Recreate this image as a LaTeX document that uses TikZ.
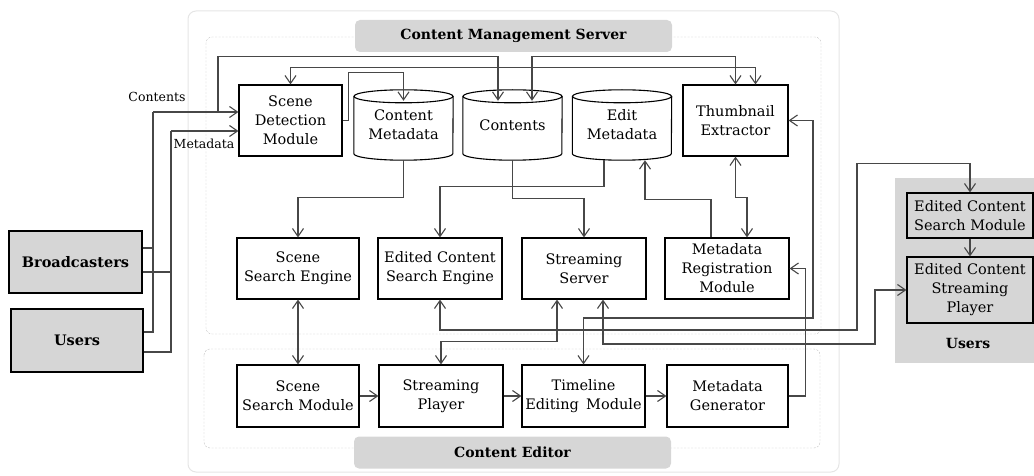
\documentclass[tikz,border=0pt]{standalone}
\usepackage{fontspec}
\setmainfont{DejaVu Serif}
\usetikzlibrary{arrows.meta}

\begin{document}
\begin{tikzpicture}[x=1pt,y=-1pt,
		>={Straight Barb[length=8pt,width=11pt]},
		box/.style={draw=black,line width=1.1pt,fill=white,align=center,inner sep=1pt,font=\fontsize{14.5}{19}\selectfont},
		gbox/.style={box,fill=gray!32},
		mod/.style={box,minimum width=124pt,minimum height=61pt},
		db/.style={align=center,inner sep=0pt,font=\fontsize{14.5}{19}\selectfont,minimum width=99pt,minimum height=70pt},
		title/.style={fill=gray!32,rounded corners=5pt,minimum width=317pt,minimum height=32pt,font=\fontsize{14}{16}\selectfont\bfseries},
		link/.style={draw=black!72,line width=1.1pt},
		arr/.style={link,->},
		arr2/.style={link,<->},
		lbl/.style={font=\fontsize{12.5}{14}\selectfont,inner sep=0pt}]
		\useasboundingbox (0,0) rectangle (1034,476);
		\draw [gray!20,line width=1pt,rounded corners=8pt] (188,11) rectangle (839,472);
		\draw [gray!50,dash pattern=on 2pt off 1.5pt,rounded corners=6pt] (206,37) rectangle (821,334);
		\draw [gray!50,dash pattern=on 2pt off 1.5pt,rounded corners=6pt] (204,349) rectangle (820,448);
		\fill [gray!32] (895,178) rectangle (1034,363);
		\node [title] (cms) at (513.5,36) {Content Management Server};
		\node [title] (ced) at (512.5,452.5) {Content Editor};
		\node [font=\fontsize{14}{16}\selectfont\bfseries] (usrt) at (968,343) {Users};
		% server
		\node [box,minimum width=103pt,minimum height=71pt] (sdm) at (290.5,120.5) {Scene\\Detection\\Module};
		\node [db] (cmeta) at (403.5,125) {Content\\Metadata};
		\node [db] (conts) at (512.5,125) {Contents};
		\node [db] (emeta) at (622,125) {Edit\\Metadata};
		\node [box,minimum width=105pt,minimum height=71pt] (thumb) at (735.5,120.5) {Thumbnail\\Extractor};
		\foreach \n in {cmeta,conts,emeta}{
			\draw [line width=1.1pt] ([yshift=-6.5pt]\n.north) ellipse [x radius=49.5pt,y radius=6.5pt];
			\draw [line width=1.1pt] ([yshift=-6.5pt]\n.north west) -- ([yshift=6.5pt]\n.south west) arc [start angle=180,end angle=360,x radius=49.5pt,y radius=6.5pt] -- ([yshift=-6.5pt]\n.north east);
		}
		\node [mod,minimum width=122pt] (sse) at (298,268.5) {Scene\\Search Engine};
		\node [mod] (ecse) at (440,268.5) {Edited Content\\Search Engine};
		\node [mod] (ss) at (584,268.5) {Streaming\\Server};
		\node [mod] (mrm) at (727,268.5) {Metadata\\Registration\\Module};
		% editor
		\node [mod,minimum width=122pt,minimum height=62pt] (ssm) at (298,396) {Scene\\Search Module};
		\node [mod,minimum height=62pt] (sp) at (441,396) {Streaming\\Player};
		\node [mod,minimum width=123pt,minimum height=62pt] (tem) at (583.5,396) {Timeline\\Editing\enspace Module};
		\node [mod,minimum width=121pt,minimum height=62pt] (mg) at (727.5,396) {Metadata\\Generator};
		% outside
		\node [gbox,minimum width=133pt,minimum height=62pt,font=\fontsize{14.5}{16}\selectfont\bfseries] (bc) at (75.5,262) {Broadcasters};
		\node [gbox,minimum width=132pt,minimum height=63pt,font=\fontsize{14.5}{16}\selectfont\bfseries] (usr) at (77,340.5) {Users};
		\node [gbox,minimum width=126pt,minimum height=45pt] (ecsm) at (970,215.5) {Edited Content\\Search Module};
		\node [gbox,minimum width=126pt,minimum height=66pt] (ecsp) at (970,290) {Edited Content\\Streaming\\Player};
		\node [lbl] (lcont) at (157,97) {Contents};
		\node [lbl] (lmeta) at (204,144) {Metadata};
		% inputs
		\coordinate (cin) at (153,112);
		\coordinate (min) at (171,131);
		\coordinate (cbr) at (218,112);
		\draw [link] ([yshift=14pt]bc.east) -| (cin);
		\draw [link] ([yshift=-10pt]bc.east) -| (min);
		\draw [link] ([yshift=8.5pt]usr.east) -| (cin);
		\draw [link] ([yshift=-11.5pt]usr.east) -| (min);
		\draw [arr] (cin) -- ([yshift=8.5pt]sdm.west);
		\draw [arr] (min) -- ([yshift=-10.5pt]sdm.west);
		\draw [arr] (cbr) |- ([xshift=-14.5pt,yshift=33pt]conts.north) -- ([xshift=-14.5pt,yshift=-11pt]conts.north);
		% server links
		\draw [arr] (sdm.east) -- ++(6,0) |- ([yshift=17pt]cmeta.north) -- ([yshift=-11pt]cmeta.north);
		\draw [arr2] ([xshift=19.5pt,yshift=-11pt]conts.north) |- ([yshift=28pt]thumb.north) -- (thumb.north);
		\draw [arr2] (sdm.north) |- ([xshift=20pt,yshift=17pt]thumb.north) -- ([xshift=20pt]thumb.north);
		\draw [arr] (cmeta.south) |- ([yshift=40pt]sse.north) -- (sse.north);
		\draw [arr] (conts.south) |- ([yshift=39pt]ss.north) -- (ss.north);
		\draw [arr] ([xshift=-18pt]emeta.south) |- ([yshift=51pt]ecse.north) -- (ecse.north);
		\draw [arr] ([xshift=-16pt]mrm.north) |- ([xshift=23pt,yshift=-39pt]emeta.south) -- ([xshift=23pt]emeta.south);
		\draw [arr2] (thumb.south) -- ++(0,41) -| ([xshift=20pt]mrm.north);
		% across
		\draw [arr2] (sse.south) -- (ssm.north);
		\draw [arr2] (ecse.south) |- (857,330) |- ([yshift=29pt]ecsm.north) -- (ecsm.north);
		\draw [arr2] ([xshift=-27pt]ss.south) |- ([yshift=23pt]sp.north) -- (sp.north);
		\draw [arr2] ([xshift=19pt]ss.south) |- (875,344) |- (ecsp.west);
		\draw [arr2] (thumb.east) -| (813,318) -| (tem.north);
		\draw [arr] (mg.east) -- ++(17,0) |- (mrm.east);
		% editor chain
		\draw [arr] (ssm) -- (sp);
		\draw [arr] (sp) -- (tem);
		\draw [arr] (tem) -- (mg);
		\draw [arr] (ecsm) -- (ecsp);
	\end{tikzpicture}
\end{document}
